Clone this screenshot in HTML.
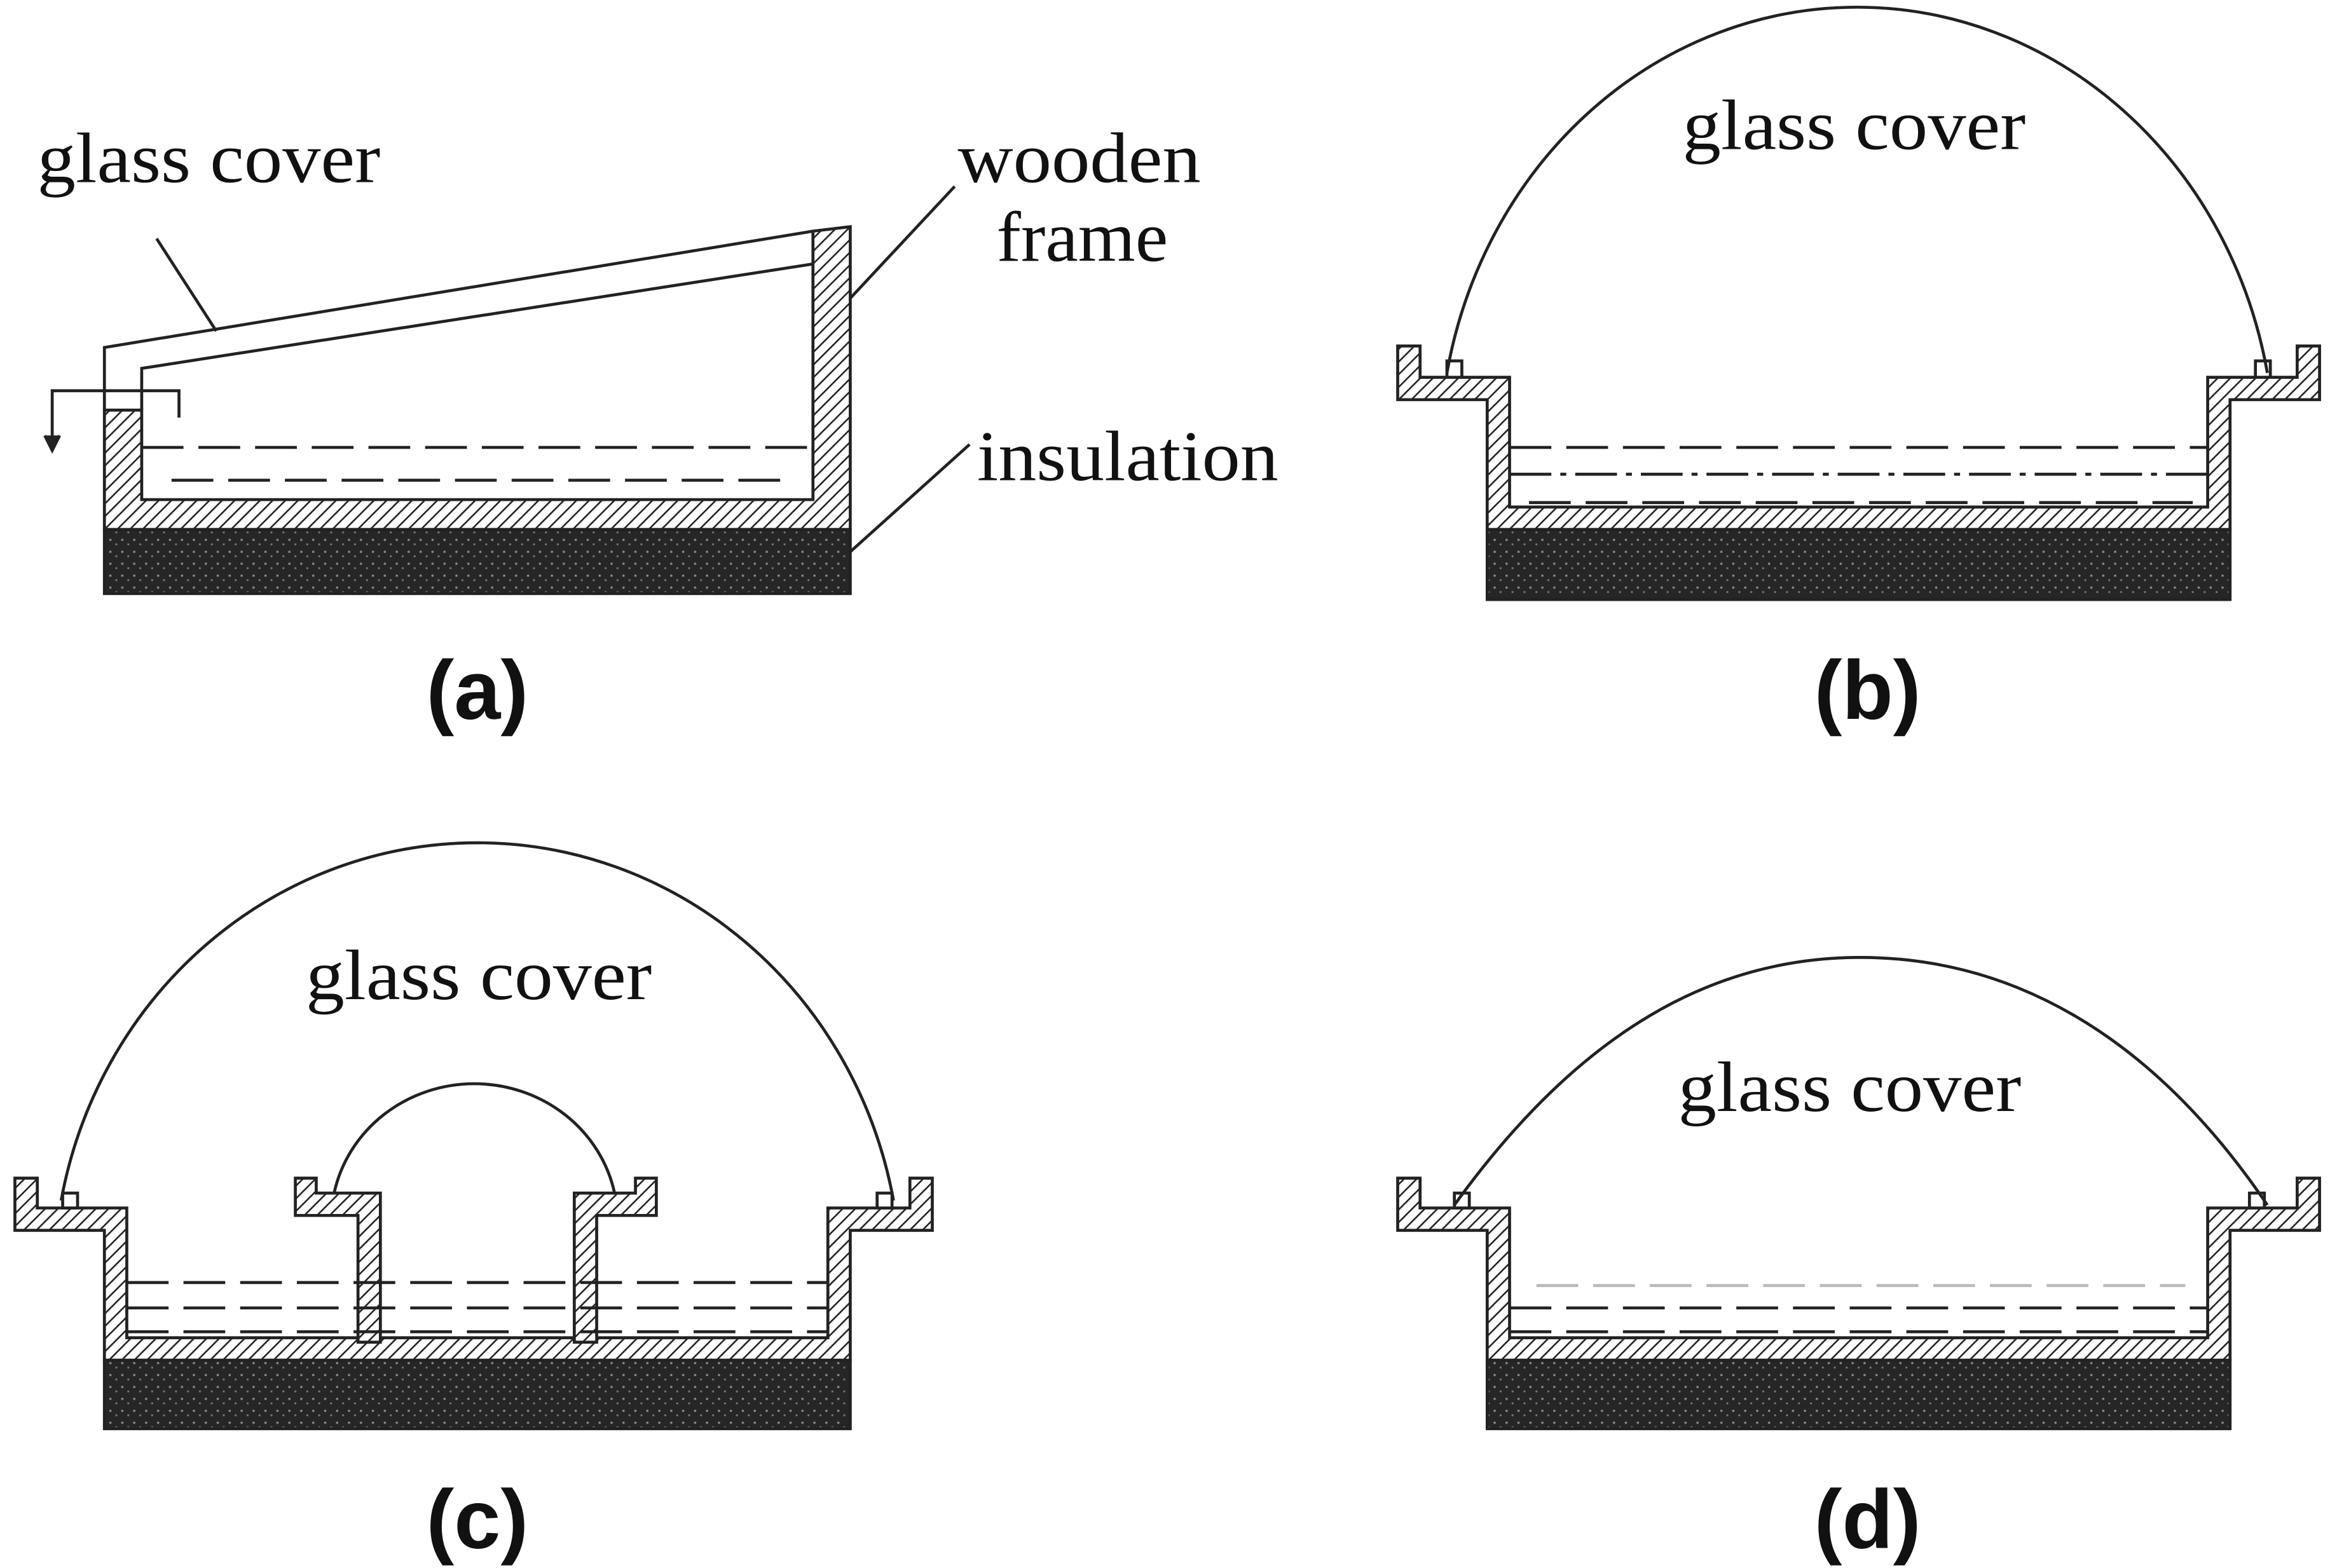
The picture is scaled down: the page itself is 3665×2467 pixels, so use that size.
<!DOCTYPE html>
<html><head><meta charset="utf-8"><style>
html,body{margin:0;padding:0;background:#fff;}
svg{display:block;}
text{font-family:"Liberation Serif",serif;fill:#111;}
.lbl{font-family:"Liberation Sans",sans-serif;font-weight:bold;}
</style></head><body>
<svg width="3665" height="2467" viewBox="0 0 1562 1051.4" preserveAspectRatio="none" xmlns="http://www.w3.org/2000/svg">
<defs>
<pattern id="h" width="6" height="6" patternUnits="userSpaceOnUse" patternTransform="rotate(45)">
<rect width="6" height="6" fill="#fff"/><line x1="0" y1="0" x2="0" y2="6" stroke="#222" stroke-width="2.2"/>
</pattern>
<pattern id="ins" width="8" height="8" patternUnits="userSpaceOnUse">
<rect width="8" height="8" fill="#262626"/><circle cx="2" cy="2" r="0.8" fill="#888"/><circle cx="6" cy="5" r="0.7" fill="#777"/>
</pattern>
</defs>
<g stroke="#222" stroke-width="2" fill="none">
<!-- (a) -->
<rect x="70" y="355" width="500" height="43" fill="url(#ins)"/>
<path d="M70,275 L95,275 L95,335 L545,335 L545,155 L570,152 L570,355 L70,355 Z" fill="url(#h)"/>
<path d="M70,275 L70,233 L545,155 M95,275 L95,247 L545,177"/>
<path d="M35,300 L35,262 L120,262 L120,280"/>
<path d="M30,292 L35,302 L40,292" fill="#222"/>
<line x1="95" y1="300" x2="545" y2="300" stroke-dasharray="28,10"/>
<line x1="115" y1="322" x2="525" y2="322" stroke-dasharray="28,10"/>
<line x1="105" y1="160" x2="145" y2="222"/>
<line x1="640" y1="125" x2="570" y2="200"/>
<line x1="650" y1="298" x2="570" y2="370"/>
<!-- (b) -->
<rect x="997" y="355" width="498" height="47" fill="url(#ins)"/>
<path d="M937,232 L937,268 L997,268 L997,355 L1495,355 L1495,268 L1555,268 L1555,232 L1540,232 L1540,253 L1480,253 L1480,340 L1012,340 L1012,253 L952,253 L952,232 Z" fill="url(#h)"/>
<rect x="970" y="242" width="10" height="11" fill="#fff"/><rect x="1512" y="242" width="10" height="11" fill="#fff"/>
<path d="M970,250 A280 302 0 0 1 1520,250"/>
<line x1="1012" y1="300" x2="1480" y2="300" stroke-dasharray="28,10"/>
<line x1="1012" y1="318" x2="1480" y2="318" stroke-dasharray="28,6,4,6"/>
<line x1="1025" y1="337" x2="1470" y2="337" stroke-dasharray="28,10"/>
<!-- (c) -->
<rect x="70" y="912" width="500" height="46" fill="url(#ins)"/>
<path d="M10,790 L10,825 L70,825 L70,912 L570,912 L570,825 L625,825 L625,790 L610,790 L610,810 L555,810 L555,897 L85,897 L85,810 L25,810 L25,790 Z" fill="url(#h)"/>
<path d="M198,790 L198,815 L240,815 L240,900 L255,900 L255,800 L212,800 L212,790 Z" fill="url(#h)"/>
<path d="M440,790 L440,815 L400,815 L400,900 L385,900 L385,800 L426,800 L426,790 Z" fill="url(#h)"/>
<rect x="42" y="800" width="10" height="10" fill="#fff"/><rect x="588" y="800" width="10" height="10" fill="#fff"/>
<path d="M41,805 A284 295 0 0 1 599,805"/>
<path d="M224,800 A96 92 0 0 1 412,800"/>
<g stroke-dasharray="28,10">
<line x1="85" y1="860" x2="555" y2="860"/>
<line x1="85" y1="877" x2="555" y2="877"/>
<line x1="85" y1="893" x2="555" y2="893"/>
</g>
<!-- (d) -->
<rect x="997" y="912" width="498" height="46" fill="url(#ins)"/>
<path d="M937,790 L937,825 L997,825 L997,912 L1495,912 L1495,825 L1555,825 L1555,790 L1540,790 L1540,810 L1480,810 L1480,897 L1012,897 L1012,810 L952,810 L952,790 Z" fill="url(#h)"/>
<rect x="975" y="800" width="10" height="10" fill="#fff"/><rect x="1508" y="800" width="10" height="10" fill="#fff"/>
<path d="M975,808 C1060,690 1150,642 1247,642 C1345,642 1440,690 1520,808"/>
<line x1="1030" y1="862" x2="1465" y2="862" stroke="#bbb" stroke-dasharray="28,10"/>
<line x1="1012" y1="877" x2="1480" y2="877" stroke-dasharray="28,10"/>
<line x1="1012" y1="893" x2="1480" y2="893" stroke-dasharray="28,10"/>
</g>
<g font-size="48">
<text x="25" y="122" textLength="230" lengthAdjust="spacingAndGlyphs">glass cover</text>
<text x="642" y="122" textLength="163" lengthAdjust="spacingAndGlyphs">wooden</text>
<text x="668" y="175" textLength="115" lengthAdjust="spacingAndGlyphs">frame</text>
<text x="655" y="322" textLength="202" lengthAdjust="spacingAndGlyphs">insulation</text>
<text x="1128" y="100" textLength="230" lengthAdjust="spacingAndGlyphs">glass cover</text>
<text x="205" y="670" textLength="232" lengthAdjust="spacingAndGlyphs">glass cover</text>
<text x="1125" y="745" textLength="230" lengthAdjust="spacingAndGlyphs">glass cover</text>
</g>
<g font-size="56">
<text class="lbl" x="320" y="482" text-anchor="middle">(a)</text>
<text class="lbl" x="1252" y="482" text-anchor="middle">(b)</text>
<text class="lbl" x="320" y="1038" text-anchor="middle">(c)</text>
<text class="lbl" x="1252" y="1038" text-anchor="middle">(d)</text>
</g>
</svg>
</body></html>
